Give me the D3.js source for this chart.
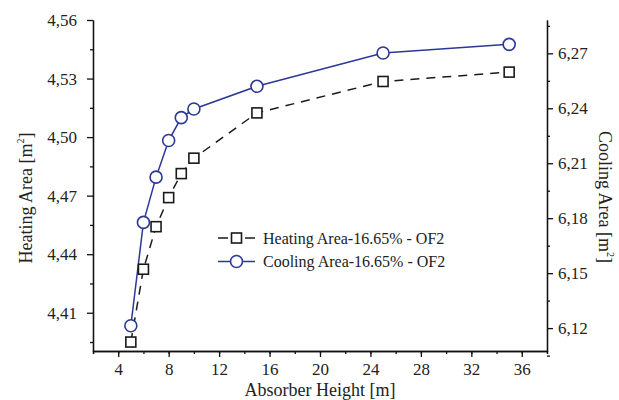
<!DOCTYPE html>
<html>
<head>
<meta charset="utf-8">
<script src="https://cdn.jsdelivr.net/npm/d3@7"></script>
<style>
  body { margin: 0; background: #fff; }
  svg text { font-family: "Liberation Serif", "Times New Roman", serif; fill: #222; }
  .axis path, .axis line { stroke: #111; stroke-width: 1.3; }
</style>
</head>
<body>
<div id="chart"></div>
<script>
var width = 619;
var height = 400;

var margin = { top: 20, right: 72, bottom: 49, left: 93 };

// absorber height [m]
var heights = [5, 6, 7, 8, 9, 10, 15, 25, 35];
// heating area [m2], left axis
var heatingArea = [4.395, 4.4323, 4.4541, 4.469, 4.4813, 4.4892, 4.5124, 4.5285, 4.5333];
// cooling area [m2], right axis
var coolingArea = [6.1213, 6.1777, 6.2024, 6.2224, 6.2349, 6.2396, 6.252, 6.2702, 6.2749];

var xTicks = [4, 8, 12, 16, 20, 24, 28, 32, 36];
var leftTicks = [4.41, 4.44, 4.47, 4.50, 4.53, 4.56];
var rightTicks = [6.12, 6.15, 6.18, 6.21, 6.24, 6.27];

var seriesNames = ["Heating Area-16.65% - OF2", "Cooling Area-16.65% - OF2"];

var blue = "#2b3896";
var dark = "#1a1a1a";

var svg = d3.select("#chart")
  .append("svg")
  .attr("width", width)
  .attr("height", height);

var x = d3.scaleLinear()
  .domain([2, 38])
  .range([margin.left, width - margin.right]);

var yLeft = d3.scaleLinear()
  .domain([4.3904, 4.56])
  .range([height - margin.bottom, margin.top]);

var yRight = d3.scaleLinear()
  .domain([6.1075, 6.2882])
  .range([height - margin.bottom, margin.top]);

var comma = d => d3.format(".2f")(d).replace(".", ",");

// minor ticks first, then the labelled ones
svg.append("g")
  .attr("class", "axis")
  .attr("transform", "translate(0," + (height - margin.bottom) + ")")
  .call(d3.axisBottom(x).tickValues(d3.range(2, 39, 2)).tickSize(3).tickFormat(""));

svg.append("g")
  .attr("class", "axis")
  .attr("transform", "translate(0," + (height - margin.bottom) + ")")
  .call(d3.axisBottom(x).tickValues(xTicks).tickSize(6).tickSizeOuter(0).tickPadding(6))
  .selectAll("text")
  .style("font-size", "17px");

svg.append("g")
  .attr("class", "axis")
  .attr("transform", "translate(" + margin.left + ",0)")
  .call(d3.axisLeft(yLeft).tickValues(d3.range(4.395, 4.56, 0.03)).tickSize(3).tickFormat("").tickSizeOuter(0));

svg.append("g")
  .attr("class", "axis")
  .attr("transform", "translate(" + margin.left + ",0)")
  .call(d3.axisLeft(yLeft).tickValues(leftTicks).tickSize(6).tickSizeOuter(0).tickPadding(10).tickFormat(comma))
  .selectAll("text")
  .style("font-size", "17px");

svg.append("g")
  .attr("class", "axis")
  .attr("transform", "translate(" + (width - margin.right) + ",0)")
  .call(d3.axisRight(yRight).tickValues(d3.range(6.105, 6.29, 0.03)).tickSize(3).tickFormat("").tickSizeOuter(0));

svg.append("g")
  .attr("class", "axis")
  .attr("transform", "translate(" + (width - margin.right) + ",0)")
  .call(d3.axisRight(yRight).tickValues(rightTicks).tickSize(6).tickSizeOuter(0).tickPadding(5).tickFormat(comma))
  .selectAll("text")
  .style("font-size", "17px");

// axis titles
svg.append("text")
  .attr("x", x(20))
  .attr("y", 396)
  .attr("text-anchor", "middle")
  .style("font-size", "18px")
  .text("Absorber Height [m]");

var leftTitle = svg.append("text")
  .attr("transform", "translate(32,198) rotate(-90)")
  .attr("text-anchor", "middle")
  .style("font-size", "18px");
leftTitle.append("tspan").text("Heating Area [m");
leftTitle.append("tspan").attr("dy", -8).style("font-size", "10px").text("2");
leftTitle.append("tspan").attr("dy", 8).text("]");

var rightTitle = svg.append("text")
  .attr("transform", "translate(599,197) rotate(90)")
  .attr("text-anchor", "middle")
  .style("font-size", "18px");
rightTitle.append("tspan").text("Cooling Area [m");
rightTitle.append("tspan").attr("dy", -8).style("font-size", "10px").text("2");
rightTitle.append("tspan").attr("dy", 8).text("]");

// series
var heatLine = d3.line()
  .x((d, i) => x(heights[i]))
  .y(d => yLeft(d));

var coolLine = d3.line()
  .x((d, i) => x(heights[i]))
  .y(d => yRight(d));

svg.append("path")
  .datum(heatingArea)
  .attr("d", heatLine)
  .attr("fill", "none")
  .attr("stroke", dark)
  .attr("stroke-width", 1.5)
  .attr("stroke-dasharray", "9,7");

svg.append("path")
  .datum(coolingArea)
  .attr("d", coolLine)
  .attr("fill", "none")
  .attr("stroke", blue)
  .attr("stroke-width", 1.5);

svg.selectAll(".sq")
  .data(heatingArea)
  .enter()
  .append("rect")
  .attr("class", "sq")
  .attr("x", (d, i) => x(heights[i]) - 5)
  .attr("y", d => yLeft(d) - 5)
  .attr("width", 10)
  .attr("height", 10)
  .attr("fill", "#fff")
  .attr("stroke", dark)
  .attr("stroke-width", 1.6);

svg.selectAll(".circ")
  .data(coolingArea)
  .enter()
  .append("circle")
  .attr("class", "circ")
  .attr("cx", (d, i) => x(heights[i]))
  .attr("cy", d => yRight(d))
  .attr("r", 6)
  .attr("fill", "#fff")
  .attr("stroke", blue)
  .attr("stroke-width", 1.6);

// legend
var legend = svg.append("g").attr("transform", "translate(218,238)");

legend.append("line")
  .attr("x1", 0).attr("x2", 37).attr("y1", 0).attr("y2", 0)
  .attr("stroke", dark).attr("stroke-width", 1.5).attr("stroke-dasharray", "10,17,10");
legend.append("rect")
  .attr("x", 13.5).attr("y", -5).attr("width", 10).attr("height", 10)
  .attr("fill", "#fff").attr("stroke", dark).attr("stroke-width", 1.6);
legend.append("text")
  .attr("x", 45).attr("y", 5.5)
  .style("font-size", "16px")
  .text(seriesNames[0]);

legend.append("line")
  .attr("x1", 0).attr("x2", 37).attr("y1", 23.5).attr("y2", 23.5)
  .attr("stroke", blue).attr("stroke-width", 1.5);
legend.append("circle")
  .attr("cx", 18.5).attr("cy", 23.5).attr("r", 6)
  .attr("fill", "#fff").attr("stroke", blue).attr("stroke-width", 1.6);
legend.append("text")
  .attr("x", 45).attr("y", 29)
  .style("font-size", "16px")
  .text(seriesNames[1]);
</script>
</body>
</html>
